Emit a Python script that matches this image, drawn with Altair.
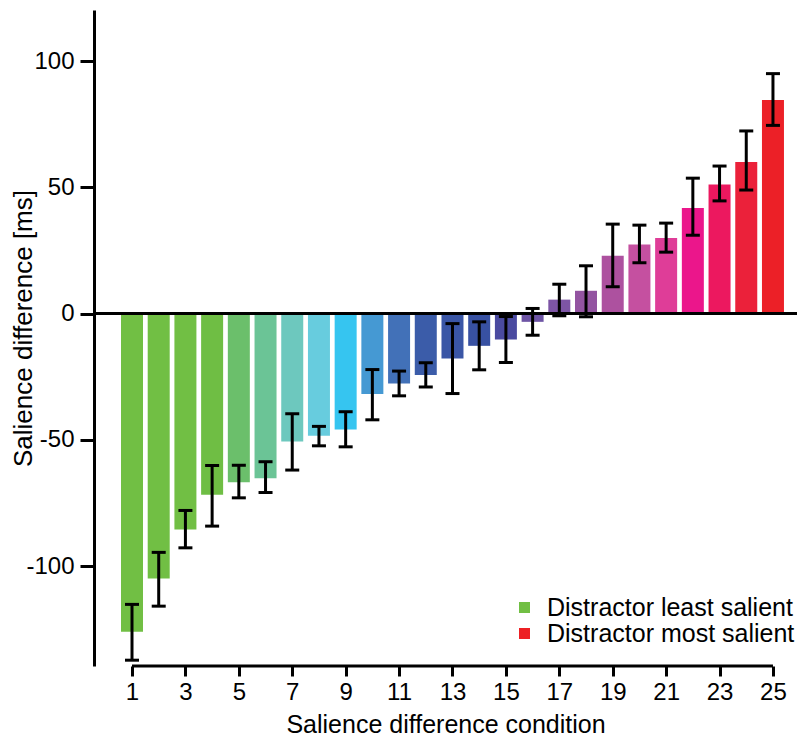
import altair as alt
import pandas as pd

conditions = list(range(1, 26))
means = [-126.0, -104.9, -85.5, -71.8, -66.8, -65.2, -50.7, -48.4, -45.9, -31.9,
         -27.7, -24.4, -17.8, -12.8, -10.3, -3.3, 5.5, 9.0, 22.9, 27.3,
         29.9, 41.8, 51.1, 60.0, 84.6]
lower = [-137.3, -115.9, -92.8, -84.2, -73.0, -70.9, -62.0, -52.4, -52.8, -42.1,
         -32.6, -29.1, -31.7, -22.3, -19.4, -8.6, -0.9, -1.3, 10.6, 20.1,
         24.3, 31.0, 44.6, 48.9, 74.5]
upper = [-115.2, -94.6, -78.0, -60.2, -60.1, -58.7, -39.7, -44.7, -38.9, -22.2,
         -22.8, -19.5, -4.0, -3.3, -1.2, 2.0, 11.6, 18.9, 35.4, 35.0,
         35.8, 53.6, 58.4, 72.3, 95.0]
colors = ["#71BF44", "#71BF44", "#71BF44", "#6FBE44", "#6BBF6B", "#6BC496", "#6DC8BE",
          "#67CCDE", "#36C5F0", "#4599D3", "#4271B8", "#3B5CA9", "#3A56A6", "#3851A2",
          "#4A4AA0", "#6E55A5", "#7D55A5", "#9354A1", "#AD519F", "#C550A0", "#DF3D98",
          "#EB168B", "#EC185F", "#EB213A", "#EC2027"]
legend_labels = ["Distractor least salient", "Distractor most salient"]
legend_colors = ["#71BF44", "#ED2024"]

x_domain = [-0.423, 25.9]
y_domain = [-139.6, 120.2]
W, H = 703, 656
FONT = "Liberation Sans"

df = pd.DataFrame({"cond": conditions, "mean": means, "lo": lower, "hi": upper, "color": colors})
axis_df = pd.DataFrame({"x1": [min(conditions)], "x2": [max(conditions)]})
leg_df = pd.DataFrame({"label": legend_labels, "cond": [conditions[0], conditions[-1]], "mean": [0, 0]})

xscale = alt.Scale(domain=x_domain, nice=False, zero=False, padding=0)
yscale = alt.Scale(domain=y_domain, nice=False, zero=False, padding=0)

xaxis = alt.Axis(values=conditions, domain=False, grid=False, tickSize=10, tickWidth=3,
                 tickColor="black", labelFontSize=24, labelPadding=4, labelColor="black",
                 labelFont=FONT,
                 labelExpr="datum.value % 2 == 1 ? '' + datum.value : ''",
                 title="Salience difference condition", titleFontSize=25,
                 titleFontWeight="normal", titleFont=FONT, titleColor="black",
                 titleY=66, titleBaseline="alphabetic")
yaxis = alt.Axis(values=[-100, -50, 0, 50, 100], grid=False, domainWidth=3,
                 domainColor="black", tickSize=14, tickWidth=3, tickColor="black",
                 labelFontSize=24, labelPadding=6, labelColor="black", labelFont=FONT,
                 labelExpr="'' + datum.value",
                 title="Salience difference [ms]", titleFontSize=26,
                 titleFontWeight="normal", titleFont=FONT, titleColor="black",
                 titleX=-63, titleY=318, titleBaseline="alphabetic")

base = alt.Chart(df)

bars = base.mark_bar(width=22).encode(
    x=alt.X("cond:Q", scale=xscale, axis=xaxis),
    y=alt.Y("mean:Q", scale=yscale, axis=yaxis),
    y2=alt.Y2(datum=0),
    color=alt.Color("color:N", scale=None),
)

zero = base.mark_rule(color="black", strokeWidth=3).encode(
    y=alt.Y(datum=0, scale=yscale)
)

err = base.mark_rule(color="black", strokeWidth=3).encode(
    x=alt.X("cond:Q", scale=xscale),
    y=alt.Y("lo:Q", scale=yscale),
    y2="hi:Q",
)
cap_lo = base.mark_tick(color="black", thickness=3, size=14, orient="horizontal", opacity=1).encode(
    x=alt.X("cond:Q", scale=xscale),
    y=alt.Y("lo:Q", scale=yscale),
)
cap_hi = base.mark_tick(color="black", thickness=3, size=14, orient="horizontal", opacity=1).encode(
    x=alt.X("cond:Q", scale=xscale),
    y=alt.Y("hi:Q", scale=yscale),
)

xline = alt.Chart(axis_df).mark_rule(color="black", strokeWidth=3).encode(
    x=alt.X("x1:Q", scale=xscale),
    x2="x2:Q",
    y=alt.value(H),
)

legend_layer = alt.Chart(leg_df).mark_point(opacity=0).encode(
    x=alt.X("cond:Q", scale=xscale),
    y=alt.Y("mean:Q", scale=yscale),
    fill=alt.Fill("label:N",
                  scale=alt.Scale(domain=legend_labels, range=legend_colors),
                  legend=alt.Legend(orient="none", legendX=418, legendY=585, title=None,
                                    symbolType="square", symbolSize=121, symbolOpacity=1,
                                    symbolStrokeWidth=0, labelFontSize=25, labelFont=FONT,
                                    labelColor="black", labelOffset=10, rowPadding=0,
                                    padding=0, labelLimit=400)),
)

chart = alt.layer(bars, zero, err, cap_lo, cap_hi, xline, legend_layer).properties(
    width=W, height=H,
    autosize=alt.AutoSizeParams(type="none"),
    padding={"left": 86, "top": 2, "right": 0, "bottom": 71},
).configure_view(strokeOpacity=0)

chart.save("out.html", embed_options={"renderer": "svg", "actions": False})
